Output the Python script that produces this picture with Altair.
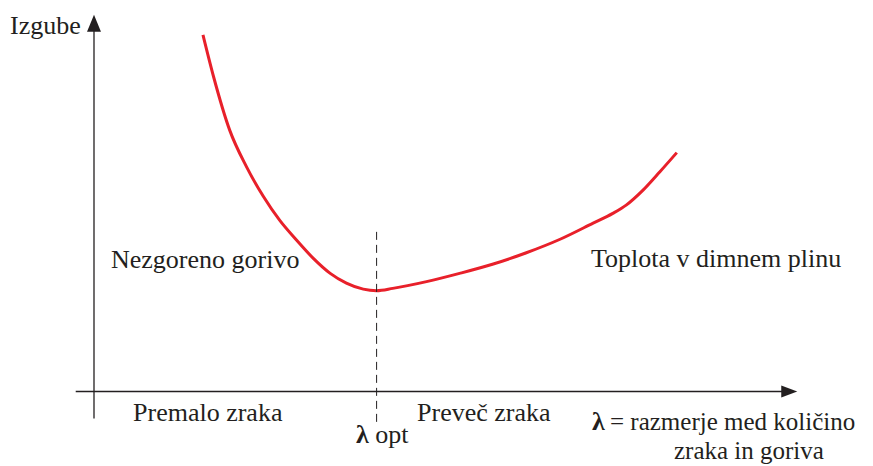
import altair as alt
import pandas as pd

# Loss curve (arbitrary units): air/fuel ratio lambda vs. losses
lam = [1.55, 1.70, 1.93, 2.17, 2.41, 2.64, 2.88, 3.12, 3.36, 3.59, 3.83, 4.02,
       4.25, 4.73, 5.20, 5.68, 6.15, 6.63, 7.10, 7.38, 7.57, 7.81, 8.05, 8.29]
loss = [9.51, 8.40, 6.97, 5.99, 5.20, 4.57, 4.04, 3.55, 3.15, 2.89, 2.73, 2.69,
        2.75, 2.93, 3.15, 3.40, 3.70, 4.06, 4.49, 4.75, 4.97, 5.37, 5.86, 6.37]

# Axis lines and optimum marker (same units)
yaxis_span = [-0.72, 9.9]
xaxis_span = [-0.26, 9.8]
lam_opt = 4.02
opt_span = [-0.81, 4.35]

# Labels
label_text = ["Izgube", "Nezgoreno gorivo", "Toplota v dimnem plinu",
              "Premalo zraka", "Preveč zraka", "opt"]
label_x = [-1.195, 0.242, 7.07, 0.555, 4.595, 4.0]
label_y = [9.53, 3.293, 3.32, -0.787, -0.787, -1.373]
bold_text = ["λ", "λ"]
bold_x = [3.727, 7.084]
bold_y = [-1.373, -1.027]
legend_text = ["= razmerje med količino", "zraka in goriva"]
legend_x = [7.34, 8.25]
legend_y = [-1.027, -1.80]

W, H = 857, 458
xs = alt.Scale(domain=[-1.2233, 10.9673], nice=False, zero=False)
ys = alt.Scale(domain=[-1.9867, 10.2267], nice=False, zero=False)
INK = "#231f20"
FONT = "Liberation Serif"

X = alt.X("x:Q", scale=xs, axis=None)
Y = alt.Y("y:Q", scale=ys, axis=None)

curve_df = pd.DataFrame({"x": lam, "y": loss})
curve = alt.Chart(curve_df).mark_line(
    color="#e8202a", strokeWidth=3, interpolate="monotone"
).encode(x=X, y=Y)

yaxis_df = pd.DataFrame({"x": [0.0], "y": [yaxis_span[0]], "y2": [yaxis_span[1]]})
yaxis = alt.Chart(yaxis_df).mark_rule(color=INK, strokeWidth=1.3).encode(x=X, y=Y, y2="y2:Q")

xaxis_df = pd.DataFrame({"x": [xaxis_span[0]], "x2": [xaxis_span[1]], "y": [0.0]})
xaxis = alt.Chart(xaxis_df).mark_rule(color=INK, strokeWidth=1.3).encode(x=X, x2="x2:Q", y=Y)

opt_df = pd.DataFrame({"x": [lam_opt], "y": [opt_span[0]], "y2": [opt_span[1]]})
opt = alt.Chart(opt_df).mark_rule(color=INK, strokeWidth=1, strokeDash=[8, 5]).encode(
    x=X, y=Y, y2="y2:Q")

up_df = pd.DataFrame({"x": [0.0], "y": [9.82]})
arrow_up = alt.Chart(up_df).mark_point(
    shape="M0,-1L-0.82,1L0.82,1Z", filled=True, opacity=1, color=INK, size=289
).encode(x=X, y=Y)

right_df = pd.DataFrame({"x": [9.89], "y": [0.0]})
arrow_right = alt.Chart(right_df).mark_point(
    shape="M1,0L-1,-0.75L-1,0.75Z", filled=True, opacity=1, color=INK, size=256
).encode(x=X, y=Y)

lab_df = pd.DataFrame({"t": label_text, "x": label_x, "y": label_y})
labels = alt.Chart(lab_df).mark_text(
    font=FONT, fontSize=26, align="left", baseline="alphabetic", color=INK
).encode(x=X, y=Y, text="t:N")

leg_df = pd.DataFrame({"t": legend_text, "x": legend_x, "y": legend_y})
legend_lbl = alt.Chart(leg_df).mark_text(
    font=FONT, fontSize=25, align="left", baseline="alphabetic", color=INK
).encode(x=X, y=Y, text="t:N")

bold_df = pd.DataFrame({"t": bold_text, "x": bold_x, "y": bold_y})
bold = alt.Chart(bold_df).mark_text(
    font=FONT, fontSize=26, fontWeight="bold", align="left",
    baseline="alphabetic", color=INK
).encode(x=X, y=Y, text="t:N")

chart = alt.layer(curve, yaxis, xaxis, opt, arrow_up, arrow_right, labels,
                  legend_lbl, bold).properties(
    width=W, height=H, padding=0, autosize=alt.AutoSizeParams(type="none"),
    background="white"
).configure_view(stroke=None)

chart.save("out.html", embed_options={"renderer": "svg", "actions": False})
